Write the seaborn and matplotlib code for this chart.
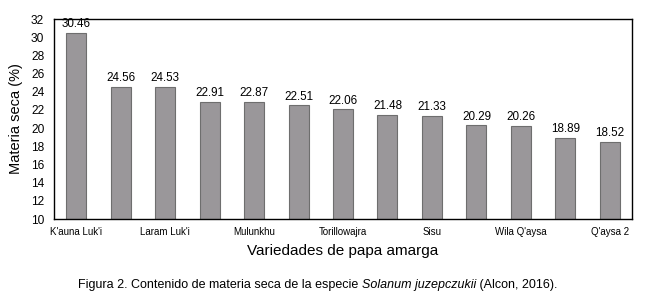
import numpy as np
import pandas as pd
import matplotlib.pyplot as plt
import seaborn as sns

# values; only every other variety name is printed in the original
posicion = list(range(13))
materia_seca = [30.46, 24.56, 24.53, 22.91, 22.87, 22.51, 22.06, 21.48, 21.33, 20.29, 20.26, 18.89, 18.52]
etiquetas = ["K'auna Luk'i", "Laram Luk'i", "Mulunkhu", "Torillowajra", "Sisu", "Wila Q'aysa", "Q'aysa 2"]

df = pd.DataFrame({'pos': posicion, 'ms': materia_seca})

sns.set_style('white')
plt.rcParams['font.family'] = ['Liberation Sans', 'DejaVu Sans']
plt.rcParams['text.color'] = 'black'
plt.rcParams['axes.labelcolor'] = 'black'
plt.rcParams['xtick.color'] = 'black'
plt.rcParams['ytick.color'] = 'black'

fig = plt.figure(figsize=(6.6, 3.03), dpi=100)
ax = fig.add_axes([54/660, 1-219/303, 578/660, 200/303])

sns.barplot(data=df, x='pos', y='ms', color='#9a979a', saturation=1, width=0.45,
            edgecolor='#6e6e6e', linewidth=0.8, ax=ax)

ax.set_ylim(10, 32)
ax.set_yticks(range(10, 33, 2))
ax.tick_params(axis='y', labelsize=8.6, length=0, pad=7)
ax.set_xticks(posicion[::2])
ax.set_xticklabels(etiquetas, fontsize=7)
ax.tick_params(axis='x', length=0, pad=6)

for i, v in enumerate(materia_seca):
    ax.text(i, v + 0.3, f'{v:.2f}', ha='center', va='bottom', fontsize=8.4)

for s in ax.spines.values():
    s.set_color('black')
    s.set_linewidth(1)

ax.set_xlabel('Variedades de papa amarga', fontsize=11, labelpad=5)
ax.set_ylabel('Materia seca (%)', fontsize=10.5, labelpad=6)

y_cap = 1 - 285/303
t1 = fig.text(78/660, y_cap, 'Figura 2. Contenido de materia seca de la especie ', fontsize=9, va='center')
fig.canvas.draw()
bb = t1.get_window_extent()
t2 = fig.text(bb.x1/660, y_cap, 'Solanum juzepczukii', fontsize=9, style='italic', va='center')
fig.canvas.draw()
bb2 = t2.get_window_extent()
fig.text(bb2.x1/660, y_cap, ' (Alcon, 2016).', fontsize=9, va='center')

fig.savefig('out.png', dpi=100)
